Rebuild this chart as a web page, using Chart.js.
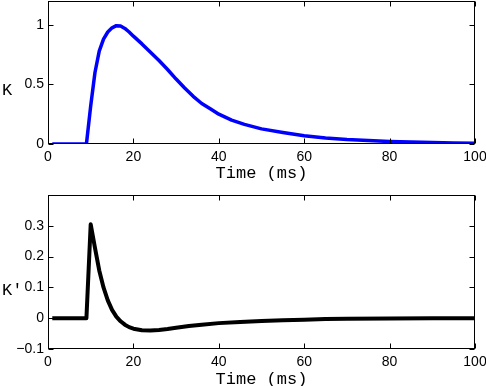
<!DOCTYPE html>
<html><head><meta charset="utf-8">
<script src="https://cdn.jsdelivr.net/npm/chart.js@4"></script>
<style>
html,body{margin:0;padding:0;background:#fff;overflow:hidden;width:486px;height:386px}
#c1{position:absolute;left:0;top:0}
#c2{position:absolute;left:0;top:190px}
</style></head><body>
<canvas id="c1" width="486" height="190"></canvas>
<canvas id="c2" width="486" height="196"></canvas>
<script>
// ---- data ----
const timeK = [1,9,10,11,12,13,14,15,16,17,18,19,20,22,24,26,28,30,32,34,36,38,40,43,46,50,55,60,65,70,75,80,85,90,95,100];
const valuesK = [0,0,0.32,0.6,0.78,0.88,0.94,0.975,0.993,0.99,0.97,0.94,0.905,0.84,0.77,0.70,0.625,0.545,0.47,0.40,0.34,0.295,0.25,0.20,0.165,0.127,0.097,0.07,0.051,0.038,0.029,0.022,0.016,0.012,0.008,0.006];

const timeKp = [1,9,10,11,12,13,14,15,16,17,18,19,20,22,24,26,28,30,33,36,40,45,50,55,60,65,70,80,90,100];
const valuesKp = [0,0,0.305,0.228,0.155,0.1,0.058,0.027,0.005,-0.01,-0.021,-0.029,-0.034,-0.039,-0.04,-0.038,-0.035,-0.031,-0.025,-0.021,-0.016,-0.012,-0.009,-0.007,-0.005,-0.003,-0.002,-0.001,0,0];

const xTicks = [0,20,40,60,80,100];
const xTickLabels = ['0','20','40','60','80','100'];
const yTicksK = [0,0.5,1];
const yTickLabelsK = ['0','0.5','1'];
const yTicksKp = [-0.1,0,0.1,0.2,0.3];
const yTickLabelsKp = ['\u22120.1','0','0.1','0.2','0.3'];
const xTitle = 'Time (ms)';
const yTitleK = 'K';
const yTitleKp = "K'";

// ---- drawing ----
const tickFont = {family:'"Liberation Sans", Arial, sans-serif', size:14};
const titleFont = '17px "Liberation Mono", "DejaVu Sans Mono", monospace';

const framePlugin = {
  id:'frame',
  afterDatasetsDraw(chart, args, opts){
    const {ctx, chartArea:a} = chart;
    const x = chart.scales.x, y = chart.scales.y;
    ctx.save();
    ctx.strokeStyle = '#000'; ctx.lineWidth = 1;
    const L = Math.round(a.left)+0.5, R = Math.round(a.right)-0.5;
    const T = Math.round(a.top)+0.5, B = Math.round(a.bottom)-0.5;
    ctx.strokeRect(L, T, R-L, B-T);
    ctx.beginPath();
    x.ticks.forEach(t => {
      const px = Math.round(x.getPixelForValue(t.value))+0.5;
      ctx.moveTo(px, B); ctx.lineTo(px, B-5);
      ctx.moveTo(px, T); ctx.lineTo(px, T+5);
    });
    y.ticks.forEach(t => {
      const py = Math.round(y.getPixelForValue(t.value))+0.5;
      ctx.moveTo(L, py); ctx.lineTo(L+5, py);
      ctx.moveTo(R, py); ctx.lineTo(R-5, py);
    });
    ctx.stroke();
    ctx.fillStyle = '#000';
    ctx.font = titleFont;
    ctx.textBaseline = 'middle';
    ctx.textAlign = 'center';
    ctx.fillText(xTitle, (a.left+a.right)/2, a.bottom + opts.xTitleOffset);
    ctx.textAlign = 'left';
    ctx.fillText(opts.yTitle, opts.yTitleX, opts.yTitleY);
    ctx.restore();
  }
};

function makeChart(id, xs, ys, color, width, yMin, yMax, yTicks, yLabels, padTop, xHeight, yTitle, yTitleY, xTitleOffset){
  const data = xs.map((t,i) => ({x:t, y:ys[i]}));
  return new Chart(document.getElementById(id), {
    type:'line',
    data:{datasets:[{data, borderColor:color, borderWidth:width, borderJoinStyle:'round', pointRadius:0, tension:0, fill:false}]},
    options:{
      responsive:false, animation:false, devicePixelRatio:1,
      layout:{padding:{left:0, right:11, top:padTop, bottom:0}},
      plugins:{legend:{display:false}, tooltip:{enabled:false},
        frame:{yTitle, yTitleX:2, yTitleY, xTitleOffset}},
      scales:{
        x:{type:'linear', min:0, max:100,
          afterBuildTicks:s => { s.ticks = xTicks.map(v => ({value:v})); },
          afterFit:s => { s.height = xHeight; s.paddingLeft = 0; s.paddingRight = 0; },
          ticks:{callback:v => xTickLabels[xTicks.indexOf(v)], font:tickFont, color:'#000', padding:5, maxRotation:0, autoSkip:false},
          grid:{display:false, drawTicks:false}, border:{display:false}},
        y:{type:'linear', min:yMin, max:yMax,
          afterBuildTicks:s => { s.ticks = yTicks.map(v => ({value:v})); },
          afterFit:s => { s.width = 48; s.paddingTop = 0; s.paddingBottom = 0; },
          ticks:{callback:v => yLabels[yTicks.findIndex(t => Math.abs(t-v) < 1e-9)], font:tickFont, color:'#000', padding:4, autoSkip:false},
          grid:{display:false, drawTicks:false}, border:{display:false}}
      }
    },
    plugins:[framePlugin]
  });
}

makeChart('c1', timeK, valuesK, '#0000ff', 3.5, 0, 1.2, yTicksK, yTickLabelsK, 1, 46, yTitleK, 90, 29);
makeChart('c2', timeKp, valuesKp, '#000000', 4, -0.1, 0.4, yTicksKp, yTickLabelsKp, 5, 37, yTitleKp, 100, 30);
</script>
</body></html>
